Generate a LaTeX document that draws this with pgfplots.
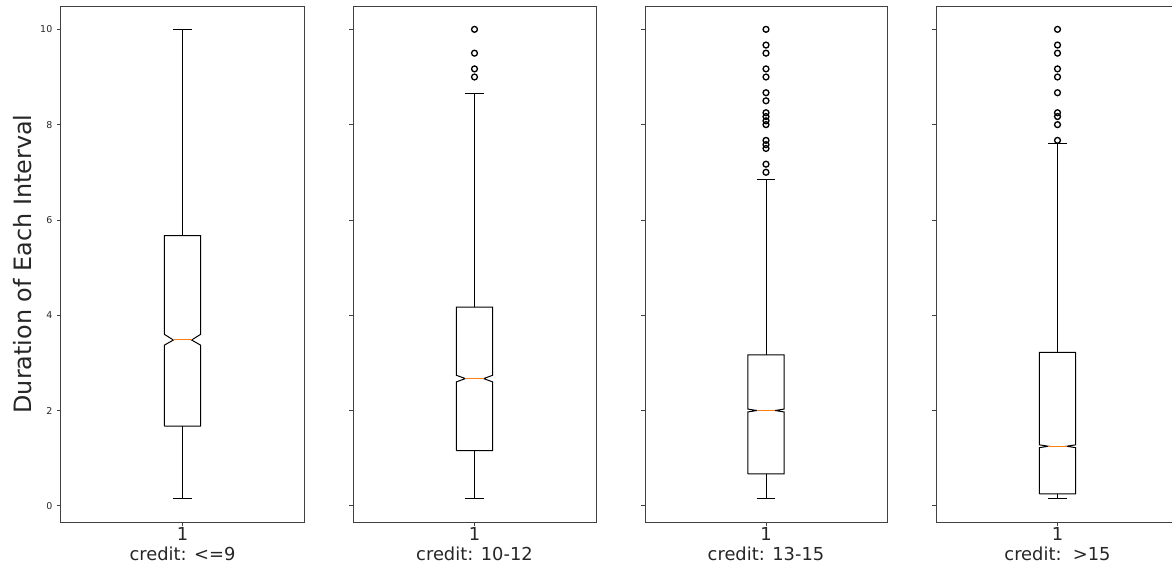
\documentclass[border=0pt]{standalone}
\usepackage{fontspec}
\setmainfont{DejaVu Sans}
\usepackage{pgfplots}
\pgfplotsset{compat=1.18}
\definecolor{mplorange}{HTML}{FF7F0E}
\pgfplotsset{panel/.style={
  scale only axis, width=182.25pt, height=387pt,
  anchor=south west,
  xmin=0.5, xmax=1.5, ymin=-0.34, ymax=10.49,
  xtick={1}, xticklabels={1},
  ytick={0,2,4,6,8,10},
  tick align=outside, major tick length=3pt,
  tick pos=left,
  axis line style={line width=0.75pt, black!75},
  tick style={line width=0.6pt, black!75},
  yticklabel style={font=\fontsize{7.1}{8}\selectfont, text=black!85},
  xticklabel style={font=\fontsize{13.4}{15}\selectfont, text=black!85, inner sep=0pt, yshift=-1pt},
  xlabel style={font=\fontsize{13.4}{15}\selectfont, text=black!85, at={(axis description cs:0.5,0)}, anchor=base, inner sep=0pt, yshift=-29pt},
  /pgf/number format/assume math mode=true,
  every axis plot/.append style={line width=0.75pt},
}}
\begin{document}
\begin{tikzpicture}
\useasboundingbox (0,0) rectangle (879pt,426.75pt);
% Panel 1
\begin{axis}[panel, at={(45.75pt,35.25pt)},
  ylabel={Duration of Each Interval},
  ylabel style={font=\fontsize{17.9}{20}\selectfont, text=black!85, at={(axis description cs:-0.156,0.5)}, anchor=center},
  xlabel={credit: <=9}]
\addplot[black] coordinates {(0.925,1.67)(0.925,3.37)(0.9625,3.48)(0.925,3.60)(0.925,5.67)(1.075,5.67)(1.075,3.60)(1.0375,3.48)(1.075,3.37)(1.075,1.67)(0.925,1.67)};
\addplot[black] coordinates {(1,1.67)(1,0.15)};
\addplot[black] coordinates {(1,5.67)(1,10.0)};
\addplot[black] coordinates {(0.9625,0.15)(1.0375,0.15)};
\addplot[black] coordinates {(0.9625,10.0)(1.0375,10.0)};
\addplot[mplorange] coordinates {(0.9625,3.48)(1.0375,3.48)};
\end{axis}
% Panel 2
\begin{axis}[panel, at={(264.75pt,35.25pt)}, yticklabels={},
  xlabel={credit: 10-12}]
\addplot[black] coordinates {(0.925,1.16)(0.925,2.60)(0.9625,2.67)(0.925,2.74)(0.925,4.17)(1.075,4.17)(1.075,2.74)(1.0375,2.67)(1.075,2.60)(1.075,1.16)(0.925,1.16)};
\addplot[black] coordinates {(1,1.16)(1,0.15)};
\addplot[black] coordinates {(1,4.17)(1,8.66)};
\addplot[black] coordinates {(0.9625,0.15)(1.0375,0.15)};
\addplot[black] coordinates {(0.9625,8.66)(1.0375,8.66)};
\addplot[mplorange] coordinates {(0.9625,2.67)(1.0375,2.67)};
\addplot[only marks, mark=o, mark size=2.2pt, black, line width=1pt] coordinates {(1,10.0)(1,9.5)(1,9.17)(1,9.0)};
\end{axis}
% Panel 3
\begin{axis}[panel, at={(483.75pt,35.25pt)}, width=181.5pt, yticklabels={},
  xlabel={credit: 13-15}]
\addplot[black] coordinates {(0.925,0.67)(0.925,1.97)(0.9625,2.0)(0.925,2.03)(0.925,3.17)(1.075,3.17)(1.075,2.03)(1.0375,2.0)(1.075,1.97)(1.075,0.67)(0.925,0.67)};
\addplot[black] coordinates {(1,0.67)(1,0.15)};
\addplot[black] coordinates {(1,3.17)(1,6.84)};
\addplot[black] coordinates {(0.9625,0.15)(1.0375,0.15)};
\addplot[black] coordinates {(0.9625,6.84)(1.0375,6.84)};
\addplot[mplorange] coordinates {(0.9625,2.0)(1.0375,2.0)};
\addplot[only marks, mark=o, mark size=2.2pt, black, line width=1pt] coordinates {(1,10.0)(1,9.67)(1,9.5)(1,9.17)(1,9.0)(1,8.67)(1,8.5)(1,8.25)(1,8.17)(1,8.08)(1,8.0)(1,7.67)(1,7.58)(1,7.5)(1,7.17)(1,7.0)};
\end{axis}
% Panel 4
\begin{axis}[panel, at={(702pt,35.25pt)}, yticklabels={},
  xlabel={credit:\ \ {>}15}]
\addplot[black] coordinates {(0.925,0.25)(0.925,1.22)(0.9625,1.25)(0.925,1.28)(0.925,3.22)(1.075,3.22)(1.075,1.28)(1.0375,1.25)(1.075,1.22)(1.075,0.25)(0.925,0.25)};
\addplot[black] coordinates {(1,0.25)(1,0.15)};
\addplot[black] coordinates {(1,3.22)(1,7.6)};
\addplot[black] coordinates {(0.9625,0.15)(1.0375,0.15)};
\addplot[black] coordinates {(0.9625,7.6)(1.0375,7.6)};
\addplot[mplorange] coordinates {(0.9625,1.25)(1.0375,1.25)};
\addplot[only marks, mark=o, mark size=2.2pt, black, line width=1pt] coordinates {(1,10.0)(1,9.67)(1,9.5)(1,9.17)(1,9.0)(1,8.67)(1,8.25)(1,8.17)(1,8.0)(1,7.67)};
\end{axis}
\end{tikzpicture}
\end{document}
